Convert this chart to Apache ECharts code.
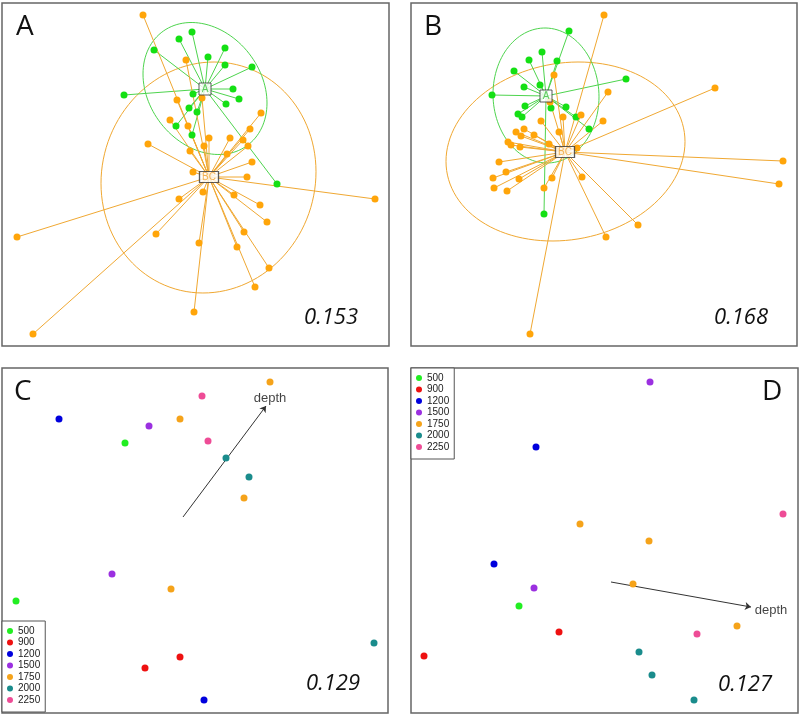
<!DOCTYPE html>
<html><head><meta charset="utf-8">
<script src="https://cdn.jsdelivr.net/npm/echarts@6/dist/echarts.min.js"></script>
<style>html,body{margin:0;padding:0;background:#fff}#c{width:800px;height:715px}</style>
</head><body><div id="c"></div>
<script>
// ---------- Panel A (spider plot, groups A and BC) ----------
const panelA_groupA = [[192,32],[179,39],[154,50],[225,48],[208,57],[225,65],[252,67],[124,95],[193,94],[233,89],[239,99],[226,104],[189,108],[197,112],[176,126],[192,135],[277,184]];
const panelA_groupBC = [[143,15],[186,60],[177,100],[202,98],[170,120],[188,126],[261,113],[250,129],[209,138],[230,138],[243,140],[248,146],[148,144],[204,146],[190,151],[227,154],[252,162],[193,172],[247,177],[375,199],[179,199],[203,192],[234,195],[260,205],[267,222],[17,237],[156,234],[244,232],[199,243],[237,247],[269,268],[255,287],[194,312],[33,334]];
const panelA_centroidA = [205,89];
const panelA_centroidBC = [209,177];
// ellipse: centre x, centre y, sd x, sd y, correlation
const panelA_ellipseA = [205,88.5,62,66,0.22];
const panelA_ellipseBC = [208.5,177.5,107.5,115.5,-0.05];
const panelA_stat = '0.153';

// ---------- Panel B ----------
const panelB_groupA = [[569,31],[542,52],[529,60],[557,61],[514,71],[626,79],[524,87],[540,85],[492,95],[525,106],[551,108],[566,107],[518,114],[522,117],[576,117],[589,129],[544,214]];
const panelB_groupBC = [[604,15],[715,88],[554,75],[608,92],[550,102],[563,117],[581,115],[541,121],[603,121],[524,129],[516,132],[521,136],[534,135],[559,132],[508,142],[511,145],[520,147],[783,161],[499,162],[577,148],[549,144],[493,178],[506,172],[519,179],[552,178],[582,177],[494,188],[507,191],[544,188],[779,184],[638,225],[606,237],[530,334]];
const panelB_centroidA = [546,96];
const panelB_centroidBC = [565,152];
const panelB_ellipseA = [546,95.5,53,67.5,0.02];
const panelB_ellipseBC = [565.5,151.5,119.5,89.5,-0.11];
const panelB_stat = '0.168';

// ---------- Panels C and D (depth ordinations) ----------
const depthNames = ['500','900','1200','1500','1750','2000','2250'];
const panelC_points = [
  [[125,443],[16,601]],
  [[180,657],[145,668]],
  [[59,419],[204,700]],
  [[149,426],[112,574]],
  [[270,382],[180,419],[244,498],[171,589]],
  [[226,458],[249,477],[374,643]],
  [[202,396],[208,441]]
];
const panelC_arrow = [[183,517],[266,406]];
const panelC_stat = '0.129';

const panelD_points = [
  [[519,606]],
  [[559,632],[424,656]],
  [[536,447],[494,564]],
  [[650,382],[534,588]],
  [[580,524],[649,541],[633,584],[737,626]],
  [[639,652],[652,675],[694,700]],
  [[783,514],[697,634]]
];
const panelD_arrow = [[611,582],[751,607]];
const panelD_stat = '0.127';

// ---------- styling ----------
const depthColors = ['#22ee22','#ee1111','#0000dd','#9b30e0','#f5a31a','#1a8c8c','#ee4c96'];
const GREEN_PT = '#14e014', GREEN_LN = '#4ed44e';
const ORANGE_PT = '#ffa50a', ORANGE_LN = '#f0a832';
const FONT = "'Open Sans', 'DejaVu Sans', sans-serif";

function ellipsePts(e){
  const [cx,cy,sx,sy,r] = e; const out = [];
  const k = Math.sqrt(1-r*r);
  for(let i=0;i<=120;i++){
    const t = i/120*2*Math.PI;
    out.push([cx+sx*Math.cos(t), cy+sy*(r*Math.cos(t)+k*Math.sin(t))]);
  }
  return out;
}
// centroid-to-point segments, separated by gaps
function spokes(c, pts){
  const out = [];
  pts.forEach(p=>{ out.push(c.slice(), p.slice(), '-'); });
  return out;
}

const grids = [
  {left:2,top:3,width:387,height:343},
  {left:411,top:3,width:386,height:343},
  {left:2,top:368,width:386,height:345},
  {left:411,top:368,width:387,height:345}
];
const xAxes = [], yAxes = [];
grids.forEach((g,i)=>{
  xAxes.push({gridIndex:i,type:'value',min:g.left,max:g.left+g.width,show:false});
  yAxes.push({gridIndex:i,type:'value',min:g.top,max:g.top+g.height,inverse:true,show:false});
});

const series = [];
function lineS(idx, data, color, z){
  return {type:'line',xAxisIndex:idx,yAxisIndex:idx,data:data,showSymbol:false,symbol:'none',silent:true,
    connectNulls:false,lineStyle:{color:color,width:1},itemStyle:{color:color},z:z};
}
function spiderPanel(idx, gA, gBC, cA, cBC, eA, eBC){
  series.push(lineS(idx, ellipsePts(eBC), ORANGE_LN, 1));
  series.push(lineS(idx, ellipsePts(eA), GREEN_LN, 1));
  series.push(lineS(idx, spokes(cA,gA), GREEN_LN, 2));
  series.push(lineS(idx, spokes(cBC,gBC), ORANGE_LN, 2));
  series.push({type:'scatter',xAxisIndex:idx,yAxisIndex:idx,data:gA,symbolSize:7,itemStyle:{color:GREEN_PT,opacity:1},z:3});
  series.push({type:'scatter',xAxisIndex:idx,yAxisIndex:idx,data:gBC,symbolSize:7,itemStyle:{color:ORANGE_PT,opacity:1},z:3});
  series.push({type:'scatter',xAxisIndex:idx,yAxisIndex:idx,data:[cA],symbol:'rect',symbolSize:[12,12],
    itemStyle:{color:'#fff',borderColor:'#333',borderWidth:1},z:5,
    label:{show:true,position:'inside',formatter:'A',color:'#3cc03c',fontSize:10,fontFamily:'Liberation Sans'}});
  series.push({type:'scatter',xAxisIndex:idx,yAxisIndex:idx,data:[cBC],symbol:'rect',symbolSize:[19,11],
    itemStyle:{color:'#fff',borderColor:'#333',borderWidth:1},z:5,
    label:{show:true,position:'inside',formatter:'BC',color:'#f0a030',fontSize:10,fontFamily:'Liberation Sans'}});
}
spiderPanel(0, panelA_groupA, panelA_groupBC, panelA_centroidA, panelA_centroidBC, panelA_ellipseA, panelA_ellipseBC);
spiderPanel(1, panelB_groupA, panelB_groupBC, panelB_centroidA, panelB_centroidBC, panelB_ellipseA, panelB_ellipseBC);

function depthPanel(idx, pts, arrow, labelOffset){
  pts.forEach((g,i)=>{
    series.push({type:'scatter',name:depthNames[i],xAxisIndex:idx,yAxisIndex:idx,data:g,symbolSize:7,
      itemStyle:{color:depthColors[i],opacity:1},z:3});
  });
  series.push({type:'lines',coordinateSystem:'cartesian2d',xAxisIndex:idx,yAxisIndex:idx,silent:true,
    data:[{coords:arrow}],symbol:['none','arrow'],symbolSize:6,lineStyle:{color:'#333',width:1,opacity:1},z:2});
  series.push({type:'scatter',xAxisIndex:idx,yAxisIndex:idx,data:[arrow[1]],symbolSize:0,silent:true,z:4,
    label:{show:true,position:'inside',offset:labelOffset,formatter:'depth',color:'#111',fontSize:13,fontFamily:'Liberation Sans'}});
}
depthPanel(2, panelC_points, panelC_arrow, [4,-8]);
depthPanel(3, panelD_points, panelD_arrow, [20,3]);

function legendAt(left, top){
  return {left:left,top:top,orient:'vertical',data:depthNames,icon:'circle',itemWidth:6,itemHeight:6,itemGap:1.5,
    padding:[5,5,7,5],borderColor:'#555',borderWidth:1,backgroundColor:'#fff',selectedMode:false,
    textStyle:{fontSize:10,fontFamily:'Liberation Sans',color:'#222'}};
}

function txt(x,y,text,size,italic,align){
  return {type:'text',x:x,y:y,z:100,style:{text:text,fill:'#111',
    font:(italic?'italic ':'')+size+'px '+FONT,textAlign:align||'left',textVerticalAlign:'middle',align:align||'left',verticalAlign:'middle'}};
}

const option = {
  backgroundColor:'#fff',
  animation:false,
  grid: grids.map(g=>Object.assign({show:true,borderColor:'#666',borderWidth:1.5,backgroundColor:'#fff',containLabel:false},g)),
  xAxis:xAxes, yAxis:yAxes,
  legend:[legendAt(2,621), legendAt(411,368)],
  series:series,
  graphic:[
    txt(16,27,'A',28,false), txt(424,27,'B',28,false),
    txt(14,392,'C',28,false), txt(762,392,'D',28,false),
    txt(358,318,panelA_stat,22,true,'right'), txt(768,318,panelB_stat,22,true,'right'),
    txt(360,684,panelC_stat,22,true,'right'), txt(772,685,panelD_stat,22,true,'right')
  ]
};
const chart = echarts.init(document.getElementById('c'),null,{renderer:'canvas'});
chart.setOption(option);
</script></body></html>
